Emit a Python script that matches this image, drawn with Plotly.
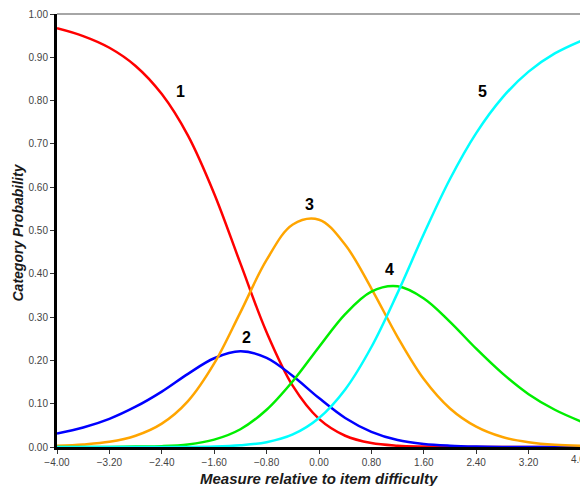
import plotly.graph_objects as go

x_vals = [-4.0, -3.6, -3.2, -2.8, -2.4, -2.0, -1.6, -1.2, -0.8, -0.4, 0.0,
          0.4, 0.8, 1.2, 1.6, 2.0, 2.4, 2.8, 3.2, 3.6, 4.0]

cat1 = [0.967, 0.949, 0.922, 0.880, 0.815, 0.719, 0.585, 0.424, 0.265, 0.141, 0.065,
        0.026, 0.009, 0.003, 0.001, 0.000, 0.000, 0.000, 0.000, 0.000, 0.000]
cat2 = [0.031, 0.045, 0.065, 0.093, 0.128, 0.169, 0.205, 0.221, 0.206, 0.164, 0.113,
        0.067, 0.035, 0.016, 0.007, 0.003, 0.001, 0.000, 0.000, 0.000, 0.000]
cat3 = [0.003, 0.006, 0.012, 0.026, 0.054, 0.106, 0.193, 0.311, 0.432, 0.514, 0.525,
        0.467, 0.366, 0.254, 0.157, 0.089, 0.047, 0.023, 0.011, 0.005, 0.003]
cat4 = [0.000, 0.000, 0.000, 0.001, 0.002, 0.006, 0.017, 0.041, 0.086, 0.152, 0.231,
        0.307, 0.359, 0.371, 0.343, 0.289, 0.227, 0.170, 0.122, 0.086, 0.059]
cat5 = [0.000, 0.000, 0.000, 0.000, 0.000, 0.000, 0.001, 0.004, 0.011, 0.029, 0.067,
        0.133, 0.231, 0.356, 0.492, 0.619, 0.725, 0.807, 0.867, 0.909, 0.938]

series = [cat1, cat2, cat3, cat4, cat5]
colors = ["#ff0000", "#0000ff", "#ffa500", "#00ee00", "#00ffff"]

label_text = ["1", "2", "3", "4", "5"]
label_x = [-2.12, -1.10, -0.15, 1.08, 2.50]
label_y = [0.82, 0.252, 0.561, 0.409, 0.82]

x_ticks = [-4.0, -3.2, -2.4, -1.6, -0.8, 0.0, 0.8, 1.6, 2.4, 3.2, 4.0]
y_ticks = [0.0, 0.1, 0.2, 0.3, 0.4, 0.5, 0.6, 0.7, 0.8, 0.9, 1.0]

x_title = "Measure relative to item difficulty"
y_title = "Category Probability"

fig = go.Figure()
for s, c in zip(series, colors):
    fig.add_trace(go.Scatter(x=x_vals, y=s, mode="lines",
                             line=dict(color=c, width=2.5, shape="spline", smoothing=1.0),
                             showlegend=False, hoverinfo="skip"))

for t, lx, ly in zip(label_text, label_x, label_y):
    fig.add_annotation(x=lx, y=ly, text="<b>%s</b>" % t, showarrow=False,
                       font=dict(family="Arial", size=16, color="black"))

# last x tick label (plotly drops it because it overflows the page edge)
fig.add_annotation(x=x_ticks[-1], xref="x", yref="paper", y=0, yshift=-12,
                   xanchor="center", yanchor="middle", showarrow=False,
                   text="%.2f" % x_ticks[-1], font=dict(family="Arial", size=10, color="#444444"))

# axis titles
fig.add_annotation(xref="paper", yref="paper", x=0.5, y=0, yshift=-31,
                   xanchor="center", yanchor="middle", showarrow=False,
                   text="<b><i>%s</i></b>" % x_title,
                   font=dict(family="Arial", size=15, color="#1a1a1a"))
fig.add_annotation(xref="paper", yref="paper", x=0, y=0.5, xshift=-40, yshift=-2,
                   xanchor="center", yanchor="middle", showarrow=False, textangle=-90,
                   text="<b><i>%s</i></b>" % y_title,
                   font=dict(family="Arial", size=14, color="#1a1a1a"))

# thin gray top / right frame
fig.add_shape(type="line", xref="paper", yref="paper", x0=0, x1=1, y0=1, y1=1,
              line=dict(color="#888888", width=1.5))
fig.add_shape(type="line", xref="paper", yref="paper", x0=1, x1=1, y0=0, y1=1,
              line=dict(color="#888888", width=1.5))

# page body has an 8px default margin, so the figure is sized to fit the window
fig.update_layout(
    width=580, height=478,
    margin=dict(l=49, r=7, t=6, b=39),
    paper_bgcolor="white", plot_bgcolor="white",
    font=dict(family="Arial", color="#444444"),
    xaxis=dict(range=[-4, 4], tickvals=x_ticks, tickformat=".2f", automargin=False,
               showgrid=False, zeroline=False, showline=True, linecolor="black", linewidth=3,
               ticks="outside", ticklen=4, tickcolor="#333333",
               tickfont=dict(size=10, color="#444444")),
    yaxis=dict(range=[0, 1], tickvals=y_ticks, tickformat=".2f", automargin=False,
               showgrid=False, zeroline=False, showline=True, linecolor="black", linewidth=3,
               ticks="outside", ticklen=4, tickcolor="#333333",
               tickfont=dict(size=10, color="#444444")),
)

fig.write_html("out.html")
